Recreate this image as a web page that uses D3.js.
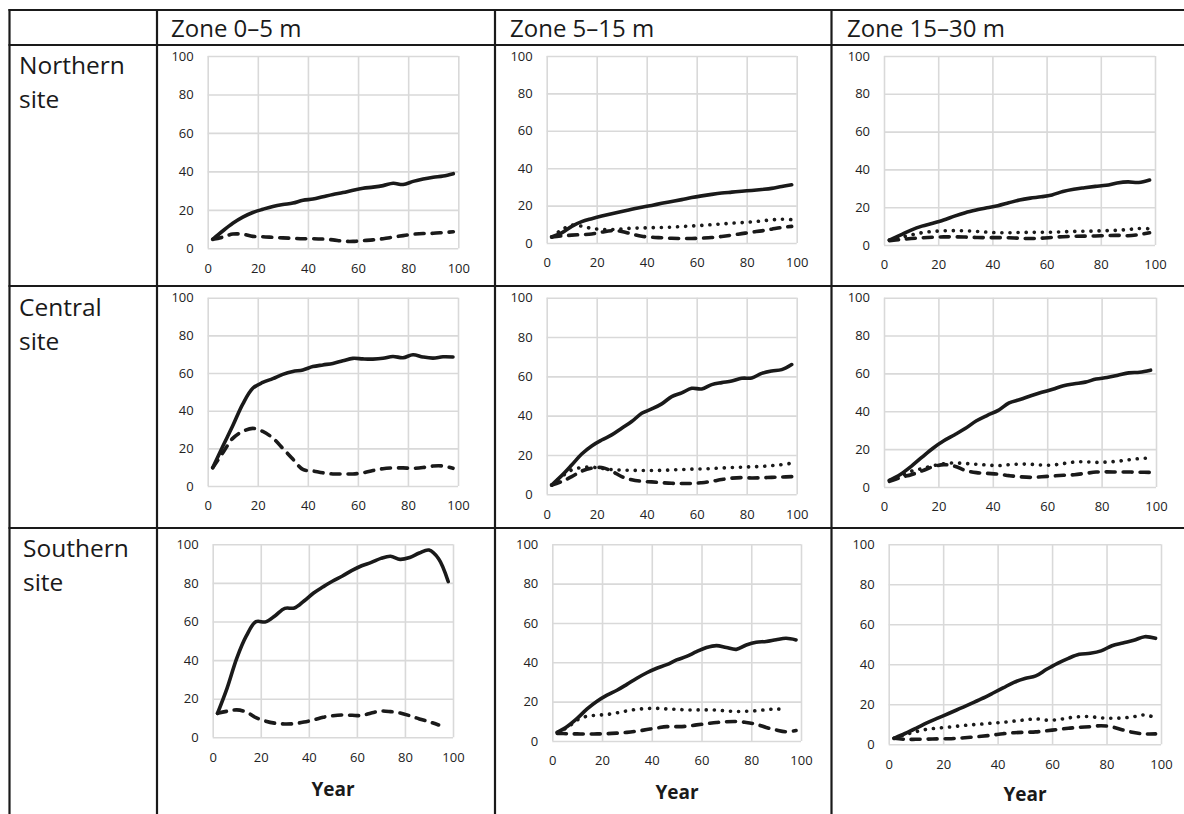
<!DOCTYPE html>
<html>
<head>
<meta charset="utf-8">
<script src="https://cdn.jsdelivr.net/npm/d3@7/dist/d3.min.js"></script>
<style>
    body { margin: 0; background: #fff; }
    svg text { font-family: 'Open Sans', sans-serif; }
</style>
</head>
<body>
<div class="chart"></div>
<script>
// sample years shared by every series
const years = [2, 6, 10, 14, 18, 22, 26, 30, 34, 38, 42, 46, 50, 54, 58, 62, 66, 70, 74, 78, 82, 86, 90, 94, 98]
const xTicks = [0, 20, 40, 60, 80, 100]
const yTicks = [0, 20, 40, 60, 80, 100]
const zoneLabels = ['Zone 0–5 m', 'Zone 5–15 m', 'Zone 15–30 m']
const siteLabels = [['Northern', 'site'], ['Central', 'site'], ['Southern', 'site']]
const axisTitle = 'Year'

// Northern site
const north05Solid = [4.7, 9, 13, 16.2, 18.6, 20.3, 21.8, 22.8, 23.5, 25, 25.6, 26.8, 28, 29, 30.2, 31.2, 31.8, 32.6, 33.8, 33.2, 34.8, 36, 36.9, 37.6, 38.8]
const north05Dashed = [4.7, 5.8, 7.4, 7.3, 6.2, 6, 5.7, 5.4, 5.2, 5, 5, 4.8, 4.4, 3.7, 3.6, 4, 4.4, 5, 5.8, 6.6, 7.3, 7.7, 7.8, 8.2, 8.6]
const north515Solid = [3.2, 5.4, 8.9, 11.4, 13, 14.4, 15.7, 16.9, 18, 19.1, 20.1, 21.2, 22.2, 23.2, 24.3, 25.2, 26, 26.7, 27.2, 27.7, 28.1, 28.6, 29.2, 30.2, 31.1]
const north515Dotted = [3.2, 7, 9.5, 9, 7.8, 7.3, 7.2, 7.5, 7.9, 8, 8.2, 8.3, 8.5, 8.8, 9.1, 9.4, 9.8, 10.2, 10.6, 10.9, 11.3, 11.8, 12.4, 12.7, 12.5]
const north515Dashed = [3.2, 3.8, 4.2, 4.5, 4.8, 5.8, 6.6, 6.2, 4.8, 3.6, 3.1, 2.8, 2.5, 2.4, 2.4, 2.6, 2.9, 3.5, 4.2, 5, 5.8, 6.5, 7.4, 8.3, 8.9]
const north1530Solid = [2.6, 5.2, 7.9, 10, 11.5, 13.2, 15.3, 17.1, 18.5, 19.7, 20.8, 22.3, 23.8, 24.8, 25.5, 26.5, 28.3, 29.5, 30.3, 31, 31.6, 32.8, 33.4, 33.1, 34.4]
const north1530Dotted = [2.6, 4, 5.3, 6.5, 7.2, 7.5, 7.6, 7.5, 7.2, 6.8, 6.5, 6.5, 6.6, 6.7, 6.7, 6.8, 7, 7.2, 7.3, 7.4, 7.6, 7.8, 8.2, 8.7, 8.6]
const north1530Dashed = [2.3, 2.9, 3.4, 3.8, 4.1, 4.3, 4.3, 4.2, 4, 3.9, 3.9, 3.8, 3.6, 3.4, 3.6, 4, 4.4, 4.6, 4.7, 4.8, 5, 5.1, 4.9, 5.5, 6.5]

// Central site
const central05Solid = [9.7, 21, 32, 43.5, 51.9, 55, 57, 59.3, 60.8, 61.6, 63.4, 64.3, 65.1, 66.5, 67.8, 67.5, 67.4, 67.8, 68.8, 68.1, 69.7, 68.5, 67.9, 68.6, 68.5]
const central05Dashed = [9.7, 17.5, 25.3, 29, 30.6, 29, 25.5, 20, 14.3, 8.8, 8, 7, 6.4, 6.4, 6.4, 7, 8.2, 9.2, 9.6, 9.6, 9.4, 9.8, 10.6, 10.6, 9.4]
const central515Solid = [4.7, 9.5, 14.9, 20.5, 24.6, 27.6, 30.2, 33.6, 37, 41.2, 43.4, 46, 49.7, 51.6, 53.9, 53.6, 55.8, 56.8, 57.6, 59, 59.2, 61.5, 62.7, 63.4, 66]
const central515Dotted = [4.7, 9, 12.4, 13.6, 13.8, 13.2, 12.6, 12.3, 12.2, 12.1, 12.1, 12.2, 12.4, 12.6, 12.8, 12.9, 13.1, 13.4, 13.6, 13.8, 14, 14.2, 14.6, 15.1, 15.8]
const central515Dashed = [4.7, 6.5, 9, 11.8, 13.3, 13.6, 11.8, 9, 7.4, 6.6, 6.3, 5.9, 5.6, 5.5, 5.5, 5.9, 6.6, 7.5, 8.2, 8.5, 8.3, 8.4, 8.6, 8.8, 9]
const central1530Solid = [3.5, 6.6, 10.9, 15.8, 20.5, 24.4, 27.6, 31, 35, 37.9, 40.5, 44.5, 46.2, 48.2, 50, 51.6, 53.5, 54.5, 55.4, 57, 57.8, 59, 60.3, 60.6, 61.7]
const central1530Dotted = [3.5, 5.5, 8.3, 9.7, 11.2, 12.3, 12.7, 12.4, 12, 11.6, 11.3, 11.8, 12.1, 12, 11.6, 11.6, 12.4, 13.2, 13.3, 13, 13.2, 13.6, 14.4, 15, 15.3]
const central1530Dashed = [3, 5, 6.5, 8.5, 10.7, 11.8, 11, 8.7, 7.6, 7.2, 6.8, 6, 5.4, 5.1, 5.4, 5.8, 6.2, 6.5, 7.2, 7.9, 8, 7.9, 7.9, 7.8, 7.7]

// Southern site
const south05Solid = [12.4, 25.5, 40.9, 52.5, 59.9, 59.8, 63, 66.8, 67, 70.6, 74.8, 78, 81, 83.6, 86.5, 88.9, 90.6, 92.7, 93.8, 92.2, 93.2, 95.5, 97, 92.5, 80.7]
const south05Dashed = [12.4, 13.5, 14.2, 13.1, 10.2, 8.4, 7.3, 6.9, 7.1, 7.9, 9, 10.4, 11.2, 11.6, 11.4, 11.3, 12.6, 13.6, 13.3, 12.6, 11.2, 9.5, 8.1, 6.4, null]
const south515Solid = [4.4, 7.4, 11.5, 16.3, 20.2, 23.3, 25.8, 28.8, 31.9, 34.7, 37, 38.8, 41.2, 43, 45.4, 47.5, 48.5, 47.5, 46.6, 48.8, 50.2, 50.6, 51.5, 52.2, 51.4]
const south515Dotted = [4.4, 6.8, 10.7, 12.6, 13.1, 13.5, 14.3, 15.3, 16.1, 16.5, 16.6, 16.3, 16.1, 15.8, 15.8, 15.8, 15.7, 15.3, 15, 15.1, 15.4, 15.9, 16.3, 15.8, null]
const south515Dashed = [3.9, 3.7, 3.6, 3.6, 3.6, 3.7, 4, 4.4, 5, 5.8, 6.6, 7.3, 7.3, 7.5, 8.2, 8.8, 9.4, 9.8, 9.9, 9.4, 8.5, 6.9, 5.6, 4.7, 5.3]
const south1530Solid = [3, 5.4, 8, 10.7, 13.1, 15.4, 17.8, 20.2, 22.7, 25.4, 28.2, 31, 32.9, 34.2, 37.5, 40.5, 43, 45, 45.5, 46.7, 49.3, 50.7, 52, 53.8, 53]
const south1530Dotted = [3, 4.8, 6.3, 7.5, 8.1, 8.6, 9.2, 9.7, 10.1, 10.6, 11, 11.6, 12.2, 12.7, 12.1, 12.3, 13.2, 13.8, 13.8, 13.2, 13, 13.2, 13.8, 14.7, 13.3]
const south1530Dashed = [3, 2.5, 2.5, 2.6, 2.7, 2.8, 3.1, 3.5, 4, 4.6, 5.3, 5.8, 6, 6.2, 6.8, 7.4, 8, 8.5, 8.8, 9.3, 8.7, 7.2, 5.9, 5.2, 5.2]

const panels = [
    { row: 0, col: 0, box: [207.7, 56, 458.3, 248.3], solid: north05Solid, dashed: north05Dashed, dotted: null },
    { row: 0, col: 1, box: [546.7, 56, 796.7, 243], solid: north515Solid, dashed: north515Dashed, dotted: north515Dotted },
    { row: 0, col: 2, box: [884, 56, 1155, 245], solid: north1530Solid, dashed: north1530Dashed, dotted: north1530Dotted },
    { row: 1, col: 0, box: [207.7, 297.7, 458, 486], solid: central05Solid, dashed: central05Dashed, dotted: null },
    { row: 1, col: 1, box: [546.7, 297.7, 796.7, 494.3], solid: central515Solid, dashed: central515Dashed, dotted: central515Dotted },
    { row: 1, col: 2, box: [884, 297.7, 1156, 487], solid: central1530Solid, dashed: central1530Dashed, dotted: central1530Dotted },
    { row: 2, col: 0, box: [212.7, 544.3, 453, 737.3], solid: south05Solid, dashed: south05Dashed, dotted: null, title: [333, 796] },
    { row: 2, col: 1, box: [552.3, 544.3, 801, 741], solid: south515Solid, dashed: south515Dashed, dotted: south515Dotted, title: [677, 799] },
    { row: 2, col: 2, box: [888.7, 544.3, 1161, 744.3], solid: south1530Solid, dashed: south1530Dashed, dotted: south1530Dotted, title: [1025, 801] }
]

const width = 1184, height = 814
const ink = '#1a1a1a'

const svg = d3.select('.chart').append('svg')
    .attr('width', width)
    .attr('height', height)
svg.append('rect').attr('width', width).attr('height', height).style('fill', '#fff')

// table frame
const table = svg.append('g').attr('class', 'table')
const hLines = [[8.5, 10, 1184, 10], [8.5, 45, 1184, 45], [8.5, 286, 1184, 286], [8.5, 528, 1184, 528]]
const vLines = [[9.5, 9], [157, 9], [495, 9], [831.5, 9]]
hLines.forEach(l => table.append('line').attr('x1', l[0]).attr('y1', l[1]).attr('x2', l[2]).attr('y2', l[3]))
vLines.forEach(l => table.append('line').attr('x1', l[0]).attr('y1', l[1]).attr('x2', l[0]).attr('y2', height))
table.selectAll('line').style('stroke', ink).style('stroke-width', 2.2)

const headerX = [171, 510, 847]
zoneLabels.forEach((z, i) => {
    svg.append('text').attr('x', headerX[i]).attr('y', 37)
        .style('font-size', '24px').style('fill', ink).text(z)
})

const siteX = [19, 19, 23]
const siteY = [74, 316, 557]
siteLabels.forEach((s, i) => {
    s.forEach((word, j) => {
        svg.append('text').attr('x', siteX[i]).attr('y', siteY[i] + j * 34)
            .style('font-size', '24.5px').style('fill', ink).text(word)
    })
})

function drawPanel(p) {
    const [x0, y0, x1, y1] = p.box
    const w = x1 - x0, h = y1 - y0
    const g = svg.append('g').attr('transform', `translate(${x0}, ${y0})`)

    const xScale = d3.scaleLinear().domain([0, 100]).range([0, w])
    const yScale = d3.scaleLinear().domain([0, 100]).range([h, 0])

    const gx = g.append('g')
        .attr('transform', `translate(0, ${h})`)
        .call(d3.axisBottom(xScale).tickValues(xTicks).tickSizeInner(-h).tickSizeOuter(0).tickPadding(15))
    const gy = g.append('g')
        .call(d3.axisLeft(yScale).tickValues(yTicks).tickSizeInner(-w).tickSizeOuter(0).tickPadding(14))

    ;[gx, gy].forEach(a => {
        a.select('.domain').remove()
        a.selectAll('.tick line').style('stroke', '#d9d9d9').style('stroke-width', 1.6)
        a.selectAll('.tick text').style('fill', '#222').style('font-size', '13px')
            .style('font-family', "'Open Sans', sans-serif")
    })

    const line = d3.line()
        .defined(d => d[1] !== null)
        .x(d => xScale(d[0]))
        .y(d => yScale(d[1]))
        .curve(d3.curveCatmullRom.alpha(0.5))

    const series = [
        { values: p.dashed, dash: '9,8' },
        { values: p.dotted, dash: '0.1,8' },
        { values: p.solid, dash: null }
    ]
    series.filter(s => s.values).forEach(s => {
        g.append('path')
            .datum(years.map((yr, i) => [yr, s.values[i]]))
            .attr('d', line)
            .style('fill', 'none')
            .style('stroke', ink)
            .style('stroke-width', 3.6)
            .style('stroke-linecap', 'round')
            .style('stroke-linejoin', 'round')
            .style('stroke-dasharray', s.dash)
    })

    if (p.title) {
        svg.append('text')
            .attr('x', p.title[0]).attr('y', p.title[1])
            .attr('text-anchor', 'middle')
            .style('font-size', '19px').style('font-weight', 'bold').style('fill', ink)
            .text(axisTitle)
    }
}

panels.forEach(drawPanel)
</script>
</body>
</html>
